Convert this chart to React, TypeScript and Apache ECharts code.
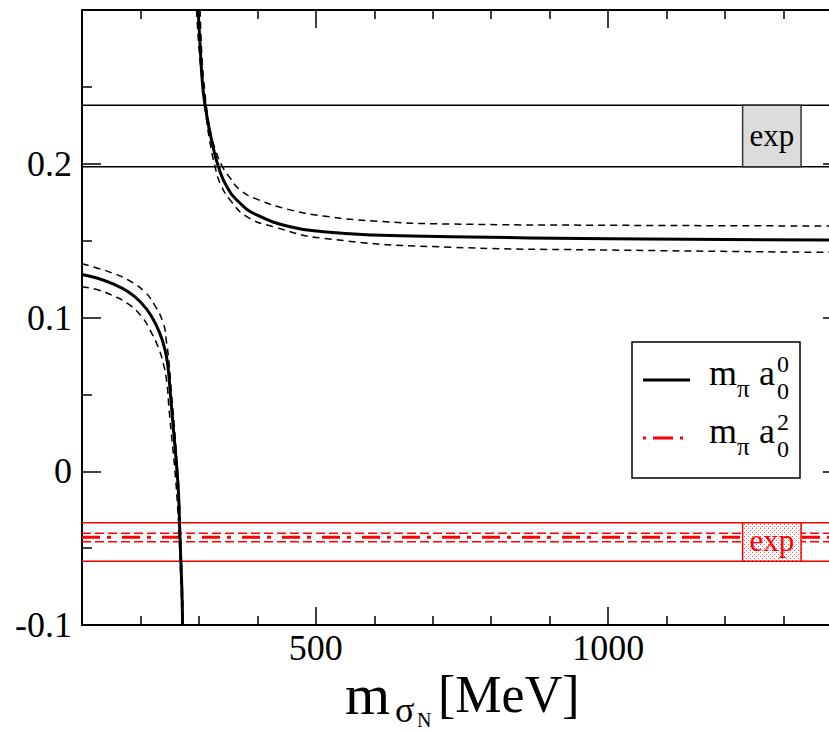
import React, { useEffect, useRef } from "react";
import * as echarts from "echarts";

const FONT = "Liberation Serif";

const X_MIN = 100;
const X_MAX = 1400;
const Y_MIN = -0.1;
const Y_MAX = 0.3;
const xMajorTicks = [500, 1000];
const xMinorTicks = [200, 300, 400, 600, 700, 800, 900, 1100, 1200, 1300];

// m_pi a_0^0 : branch below the pole
const a00LowCentral: [number, number][] = [
  [100, 0.128], [127, 0.1255], [150, 0.1223], [179, 0.1168], [202, 0.1093],
  [219, 0.1006], [233, 0.0898], [242, 0.0789], [247, 0.0681], [251, 0.051],
  [256, 0.029], [261, 0.0074], [265, -0.0142], [267, -0.036], [269, -0.0576],
  [271, -0.079], [272, -0.1],
];
const a00LowUpper: [number, number][] = [
  [100, 0.135], [127, 0.132], [150, 0.1292], [179, 0.1244], [207, 0.1168],
  [224, 0.1082], [239, 0.0963], [244, 0.0855], [249, 0.07], [253, 0.051],
  [258, 0.029], [262, 0.0074], [266, -0.0142], [268, -0.036], [270, -0.0576],
  [272, -0.079], [273, -0.1],
];
const a00LowLower: [number, number][] = [
  [100, 0.12], [127, 0.118], [150, 0.1147], [179, 0.1088], [202, 0.1006],
  [216, 0.092], [230, 0.081], [239, 0.0703], [245, 0.058], [249, 0.04],
  [254, 0.02], [259, 0.0], [263, -0.02], [266, -0.04], [268, -0.06],
  [270, -0.08], [271, -0.1],
];
// m_pi a_0^0 : branch above the pole
const a00HighCentral: [number, number][] = [
  [298.6, 0.3], [302.4, 0.274], [306.3, 0.2512], [310.6, 0.238], [316.3, 0.2252],
  [324.3, 0.2109], [333.4, 0.198], [347.8, 0.1851], [370.5, 0.1743], [399, 0.1667],
  [456, 0.159], [513, 0.1558], [598, 0.1537], [730, 0.1526], [1000, 0.1512],
  [1400, 0.1503],
];
const a00HighUpper: [number, number][] = [
  [302, 0.3], [305.5, 0.2675], [309.8, 0.248], [314, 0.2337], [320.9, 0.2187],
  [329.5, 0.2076], [339.7, 0.1985], [353.4, 0.1907], [370.5, 0.183], [399, 0.177],
  [456, 0.17], [513, 0.166], [598, 0.1628], [730, 0.1608], [1000, 0.16],
  [1400, 0.1595],
];
const a00HighLower: [number, number][] = [
  [296, 0.3], [300.3, 0.274], [305.5, 0.2545], [311.5, 0.233], [319.2, 0.2133],
  [327.7, 0.198], [336.3, 0.1873], [353.4, 0.1764], [382, 0.1656], [427.6, 0.159],
  [513, 0.1515], [730, 0.1457], [1000, 0.1439], [1400, 0.1423],
];

// experimental bands and m_pi a_0^2 result
const expA00Band = [0.198, 0.238];
const expA02Band = [-0.0585, -0.0335];
const expBoxX = [1230, 1330];
const a02Central = -0.043;
const a02Bounds = [-0.0458, -0.0404];

const hline = (v: number) => [[X_MIN, v], [X_MAX, v]];

function makeDotPattern() {
  const c = document.createElement("canvas");
  c.width = 4;
  c.height = 4;
  const ctx = c.getContext("2d")!;
  ctx.fillStyle = "#ffffff";
  ctx.fillRect(0, 0, 4, 4);
  ctx.fillStyle = "#ff5050";
  ctx.fillRect(0, 0, 1, 1);
  ctx.fillRect(2, 2, 1, 1);
  return { image: c, repeat: "repeat" };
}

export default function App() {
  const ref = useRef<HTMLDivElement>(null);

  useEffect(() => {
    if (!ref.current) return;
    const chart = echarts.init(ref.current, null, { renderer: "svg" });

    const curve = (data: any, width: number, dash: any) => ({
      type: "line",
      data,
      symbol: "none",
      showSymbol: false,
      smooth: 0.5,
      silent: true,
      z: 2,
      lineStyle: { color: "#000", width, type: dash },
    });
    const flat = (v: number, color: string, width: number, dash: any) => ({
      type: "line",
      data: hline(v),
      symbol: "none",
      showSymbol: false,
      silent: true,
      z: 2,
      lineStyle: { color, width, type: dash },
    });

    let pattern: any = "#fbd0d0";
    try {
      pattern = makeDotPattern();
    } catch (e) {
      pattern = "#fbd0d0";
    }

    const boxSeries = (band: number[], fill: any, stroke: string, textColor: string, fontSize: number) => ({
      type: "custom",
      z: 5,
      silent: true,
      data: [[expBoxX[0], expBoxX[1], band[0], band[1]]],
      renderItem: (params: any, api: any) => {
        const p0 = api.coord([api.value(0), api.value(3)]);
        const p1 = api.coord([api.value(1), api.value(2)]);
        return {
          type: "group",
          children: [
            {
              type: "rect",
              shape: { x: p0[0], y: p0[1], width: p1[0] - p0[0], height: p1[1] - p0[1] },
              style: { fill, stroke, lineWidth: 1.5 },
            },
            {
              type: "text",
              style: {
                text: "exp",
                x: (p0[0] + p1[0]) / 2,
                y: (p0[1] + p1[1]) / 2 - 1,
                align: "center",
                verticalAlign: "middle",
                fontFamily: FONT,
                fontSize,
                fill: textColor,
              },
            },
          ],
        };
      },
    });

    const axisCommon = {
      min: X_MIN,
      max: X_MAX,
      type: "value",
      splitLine: { show: false },
    };

    const option: any = {
      animation: false,
      backgroundColor: "#fff",
      textStyle: { fontFamily: FONT },
      grid: { left: 82, right: 18, top: 10, bottom: 107, containLabel: false },
      xAxis: [
        {
          ...axisCommon,
          position: "bottom",
          axisLine: { show: true, onZero: false, lineStyle: { color: "#000", width: 2 } },
          axisTick: { show: true, inside: true, length: 18, customValues: xMajorTicks, lineStyle: { color: "#000", width: 1.5 } },
          axisLabel: {
            show: true,
            customValues: xMajorTicks,
            margin: 5,
            fontFamily: FONT,
            fontSize: 36,
            color: "#000",
            formatter: (v: number) => String(v),
          },
        },
        {
          ...axisCommon,
          position: "bottom",
          axisLine: { show: false, onZero: false },
          axisTick: { show: true, inside: true, length: 9, customValues: xMinorTicks, lineStyle: { color: "#000", width: 1.5 } },
          axisLabel: { show: false },
        },
        {
          ...axisCommon,
          position: "top",
          axisLine: { show: true, onZero: false, lineStyle: { color: "#000", width: 2 } },
          axisTick: { show: true, inside: true, length: 18, customValues: xMajorTicks, lineStyle: { color: "#000", width: 1.5 } },
          axisLabel: { show: false },
        },
        {
          ...axisCommon,
          position: "top",
          axisLine: { show: false, onZero: false },
          axisTick: { show: true, inside: true, length: 9, customValues: xMinorTicks, lineStyle: { color: "#000", width: 1.5 } },
          axisLabel: { show: false },
        },
      ],
      yAxis: [
        {
          type: "value",
          min: Y_MIN,
          max: Y_MAX,
          interval: 0.1,
          position: "left",
          splitLine: { show: false },
          axisLine: { show: true, onZero: false, lineStyle: { color: "#000", width: 2 } },
          axisTick: { show: true, inside: true, length: 19, lineStyle: { color: "#000", width: 1.5 } },
          minorTick: { show: true, splitNumber: 2, length: 10, lineStyle: { color: "#000", width: 1.5 } },
          axisLabel: {
            margin: 10,
            fontFamily: FONT,
            fontSize: 36,
            color: "#000",
            formatter: (v: number) => (Math.abs(v - Y_MAX) < 1e-9 ? "" : String(Math.round(v * 10) / 10)),
          },
        },
        {
          type: "value",
          min: Y_MIN,
          max: Y_MAX,
          interval: 0.1,
          position: "right",
          splitLine: { show: false },
          axisLine: { show: true, onZero: false, lineStyle: { color: "#000", width: 2 } },
          axisTick: { show: true, inside: true, length: 19, lineStyle: { color: "#000", width: 1.5 } },
          minorTick: { show: true, splitNumber: 2, length: 10, lineStyle: { color: "#000", width: 1.5 } },
          axisLabel: { show: false },
        },
      ],
      series: [
        flat(expA00Band[0], "#000", 1.5, "solid"),
        flat(expA00Band[1], "#000", 1.5, "solid"),
        flat(expA02Band[0], "#ff0000", 1.5, "solid"),
        flat(expA02Band[1], "#ff0000", 1.5, "solid"),
        flat(a02Bounds[0], "#ff0000", 1.5, [9, 4]),
        flat(a02Bounds[1], "#ff0000", 1.5, [9, 4]),
        flat(a02Central, "#ff0000", 3, [18, 7, 4, 11]),
        curve(a00LowUpper, 1.5, [7, 5]),
        curve(a00LowLower, 1.5, [7, 5]),
        curve(a00LowCentral, 3, "solid"),
        curve(a00HighUpper, 1.5, [7, 5]),
        curve(a00HighLower, 1.5, [7, 5]),
        curve(a00HighCentral, 3, "solid"),
        boxSeries(expA00Band, "#dcdcdc", "#333", "#000", 31),
        boxSeries(expA02Band, pattern, "#ff0000", "#ff0000", 31),
      ],
      graphic: [
        // legend
        { type: "rect", z: 100, shape: { x: 632, y: 342, width: 168, height: 136 }, style: { fill: "#fff", stroke: "#000", lineWidth: 1.5 } },
        { type: "line", z: 101, shape: { x1: 643, y1: 380, x2: 690, y2: 380 }, style: { stroke: "#000", lineWidth: 3 } },
        { type: "line", z: 101, shape: { x1: 643, y1: 438, x2: 690, y2: 438 }, style: { stroke: "#ff0000", lineWidth: 3, lineDash: [3, 7, 20, 7, 3, 60] } },
        { type: "text", z: 101, style: { text: "m", x: 709, y: 373, verticalAlign: "middle", fontFamily: FONT, fontSize: 36, fill: "#000" } },
        { type: "text", z: 101, style: { text: "π", x: 737, y: 388, verticalAlign: "middle", fontFamily: FONT, fontSize: 25, fill: "#000" } },
        { type: "text", z: 101, style: { text: "a", x: 759, y: 373, verticalAlign: "middle", fontFamily: FONT, fontSize: 36, fill: "#000" } },
        { type: "text", z: 101, style: { text: "0", x: 777, y: 364, verticalAlign: "middle", fontFamily: FONT, fontSize: 24, fill: "#000" } },
        { type: "text", z: 101, style: { text: "0", x: 777, y: 391, verticalAlign: "middle", fontFamily: FONT, fontSize: 24, fill: "#000" } },
        { type: "text", z: 101, style: { text: "m", x: 709, y: 431, verticalAlign: "middle", fontFamily: FONT, fontSize: 36, fill: "#000" } },
        { type: "text", z: 101, style: { text: "π", x: 737, y: 446, verticalAlign: "middle", fontFamily: FONT, fontSize: 25, fill: "#000" } },
        { type: "text", z: 101, style: { text: "a", x: 759, y: 431, verticalAlign: "middle", fontFamily: FONT, fontSize: 36, fill: "#000" } },
        { type: "text", z: 101, style: { text: "2", x: 777, y: 422, verticalAlign: "middle", fontFamily: FONT, fontSize: 24, fill: "#000" } },
        { type: "text", z: 101, style: { text: "0", x: 777, y: 449, verticalAlign: "middle", fontFamily: FONT, fontSize: 24, fill: "#000" } },
        // x-axis title
        { type: "text", z: 101, style: { text: "m", x: 345, y: 694, verticalAlign: "middle", fontFamily: FONT, fontSize: 58, fill: "#000" } },
        { type: "text", z: 101, style: { text: "σ", x: 395, y: 710, verticalAlign: "middle", fontFamily: FONT, fontSize: 36, fill: "#000" } },
        { type: "text", z: 101, style: { text: "N", x: 417, y: 720, verticalAlign: "middle", fontFamily: FONT, fontSize: 20, fill: "#000" } },
        { type: "text", z: 101, style: { text: "[MeV]", x: 438, y: 694, verticalAlign: "middle", fontFamily: FONT, fontSize: 52, fill: "#000" } },
      ],
    };

    chart.setOption(option);
    return () => chart.dispose();
  }, []);

  return (
    <div style={{ position: "fixed", left: 0, top: 0, width: 829, height: 732, overflow: "hidden", background: "#fff" }}>
      <div ref={ref} style={{ width: 860, height: 732 }} />
    </div>
  );
}
